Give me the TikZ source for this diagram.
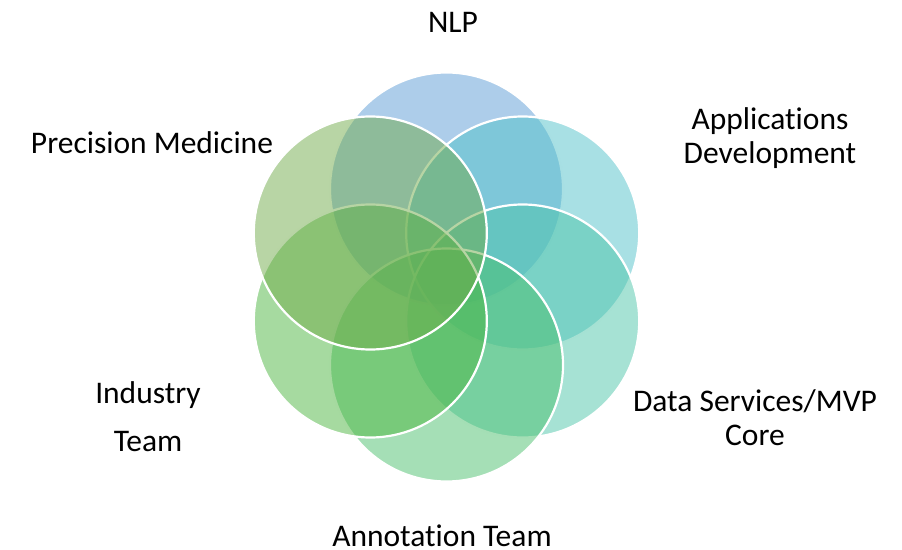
\documentclass[tikz,border=0pt]{standalone}
\usepackage{fontspec}
\setmainfont[Ligatures=NoCommon]{Carlito}
\definecolor{nlpc}{RGB}{91,155,213}
\definecolor{appc}{RGB}{81,193,201}
\definecolor{datac}{RGB}{77,197,169}
\definecolor{annc}{RGB}{75,191,109}
\definecolor{indc}{RGB}{77,181,65}
\definecolor{prec}{RGB}{113,171,75}
\begin{document}
\begin{tikzpicture}[x=1bp,y=-1bp,
  venn/.style={circle, minimum size=233bp, inner sep=0pt, draw=white, line width=2.2bp, fill opacity=0.5},
  lbl/.style={font=\fontsize{31.5bp}{34bp}\selectfont, align=center, text=black, inner sep=0pt}]
\useasboundingbox (0,0) rectangle (902,550);
\node[venn, fill=nlpc] (nlp) at (446.5,189) {};
\node[venn, fill=appc] (app) at (522.7,233) {};
\node[venn, fill=datac] (data) at (522.7,321) {};
\node[venn, fill=annc] (ann) at (446.5,365) {};
\node[venn, fill=indc] (ind) at (370.3,321) {};
\node[venn, fill=prec] (pre) at (370.3,233) {};
\node[lbl] (tnlp) at (453,22) {NLP};
\node[lbl] (tapp) at (770,138) {Applications\\Development};
\node[lbl] (tpre) at (152,143) {Precision Medicine};
\node[lbl, font=\fontsize{31.5bp}{48bp}\selectfont] (tind) at (148,417) {Industry\\Team};
\node[lbl] (tdata) at (755,418) {Data Services/MVP\\Core};
\node[lbl] (tann) at (442,536) {Annotation Team};
\end{tikzpicture}
\end{document}
